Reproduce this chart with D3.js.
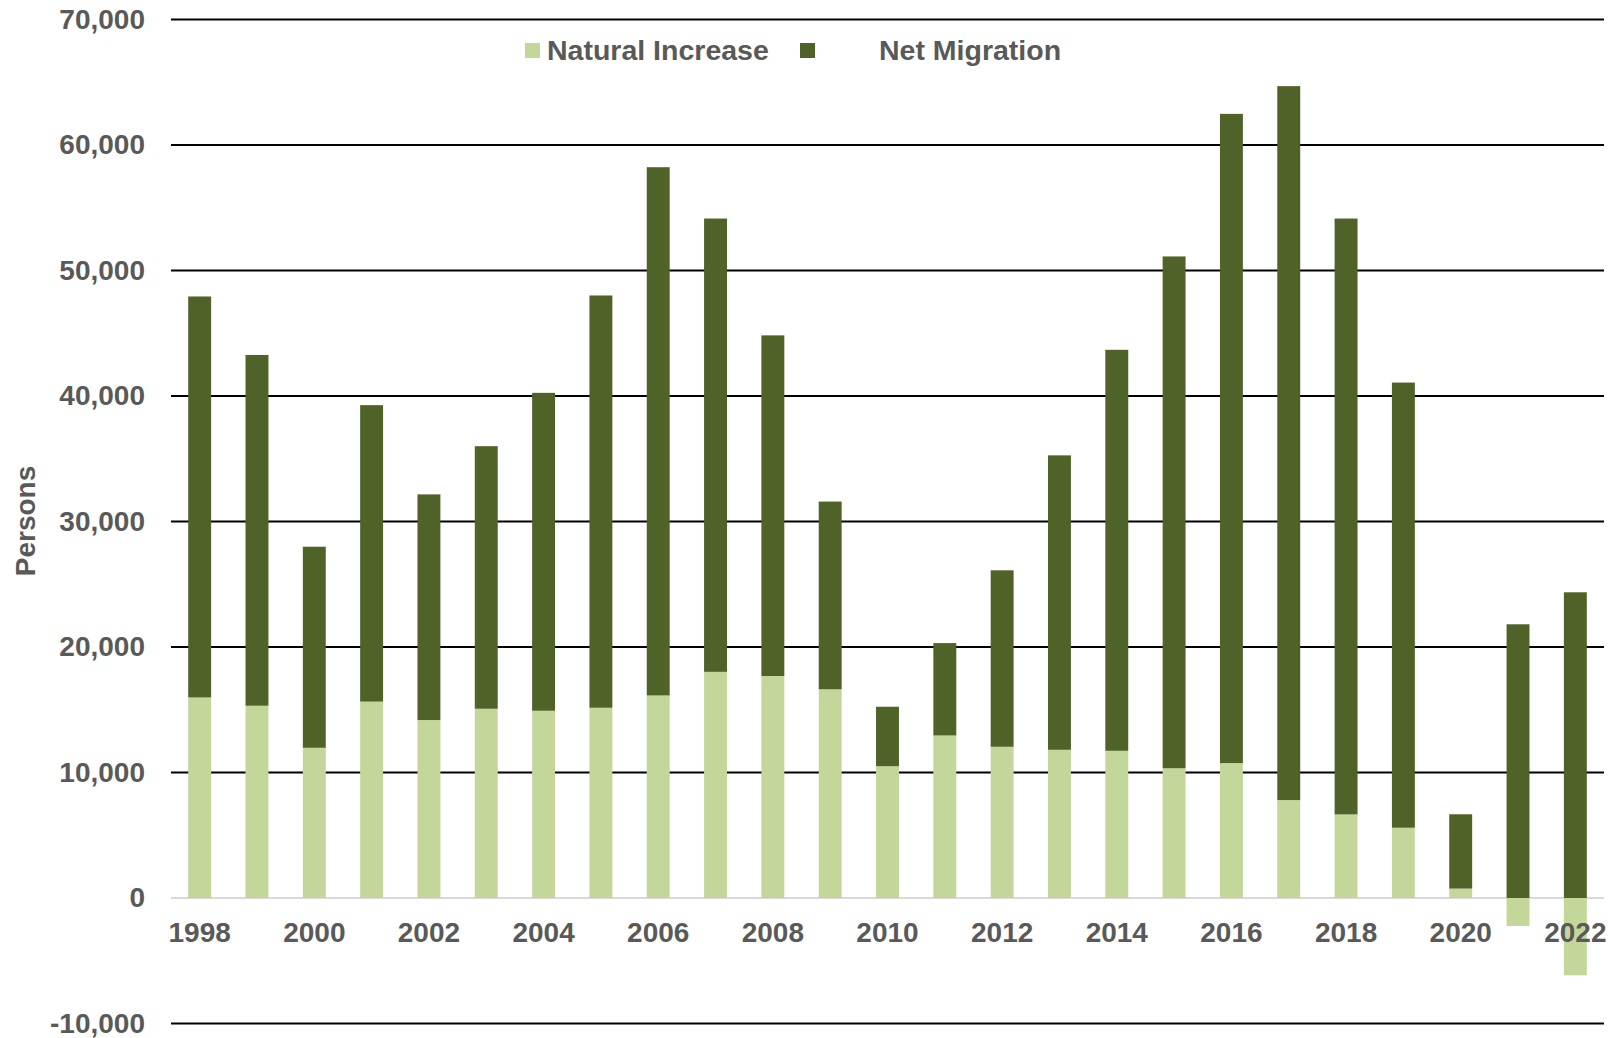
<!DOCTYPE html>
<html>
<head>
<meta charset="utf-8">
<script src="https://cdn.jsdelivr.net/npm/d3@7"></script>
<style>
  html, body { margin: 0; padding: 0; background: #fff; }
  svg { display: block; }
  text { font-family: "Liberation Sans", Arial, sans-serif; font-weight: bold; fill: #595959; }
</style>
</head>
<body>
<svg id="chart" width="1608" height="1038"></svg>
<script>
// ---- Data ----
const years = ["1998","1999","2000","2001","2002","2003","2004","2005","2006","2007","2008","2009","2010","2011","2012","2013","2014","2015","2016","2017","2018","2019","2020","2021","2022"];
const naturalIncrease = [15980,15320,11970,15650,14180,15080,14920,15160,16140,18020,17690,16630,10500,12950,12050,11810,11730,10340,10750,7800,6660,5600,750,-2230,-6160];
const netMigration = [31950,27950,16020,23620,17980,20920,25330,32850,42090,36120,27140,14960,4740,7360,14060,23460,31950,40780,51730,56890,47480,35470,5920,21810,24360];
const yTicks = [-10000,0,10000,20000,30000,40000,50000,60000,70000];
const xTickLabels = ["1998","2000","2002","2004","2006","2008","2010","2012","2014","2016","2018","2020","2022"];
const seriesNames = ["Natural Increase","Net Migration"];
const seriesColors = ["#c4d79b","#4f6228"];

(function () {
// ---- Layout ----
const svg = d3.select("#chart");
const mLeft = 171, mRight = 1604, mTop = 19.5, mBottom = 1023.5;

const x = d3.scaleBand().domain(years).range([mLeft, mRight]).paddingInner(0.6).paddingOuter(0.3);
const y = d3.scaleLinear().domain([-10000, 70000]).range([mBottom, mTop]);

const rows = years.map((yr, i) => ({year: yr, "Natural Increase": naturalIncrease[i], "Net Migration": netMigration[i]}));
const stack = d3.stack().keys(seriesNames).offset(d3.stackOffsetDiverging);
const series = stack(rows);

// gridlines
svg.append("g").selectAll("line").data(yTicks).join("line")
  .attr("x1", mLeft).attr("x2", mRight)
  .attr("y1", d => y(d)).attr("y2", d => y(d))
  .attr("stroke", d => d === 0 ? "#d9d9d9" : "#000")
  .attr("stroke-width", 2);

// bars
svg.append("g").selectAll("g").data(series).join("g")
  .attr("fill", (d, i) => seriesColors[i])
  .selectAll("rect").data(d => d).join("rect")
  .attr("x", d => x(d.data.year))
  .attr("width", x.bandwidth())
  .attr("y", d => y(Math.max(d[0], d[1])))
  .attr("height", d => Math.abs(y(d[0]) - y(d[1])));

// y axis
const fmt = d3.format(",");
const yAxis = svg.append("g").attr("transform", `translate(${mLeft},0)`)
  .call(d3.axisLeft(y).tickValues(yTicks).tickSize(0).tickPadding(26)
    .tickFormat(d => fmt(d).replace("\u2212", "-")));
yAxis.select(".domain").remove();
yAxis.selectAll("text").style("font-size", "28px").attr("fill", "#595959")
  .style("font-family", "'Liberation Sans', Arial, sans-serif").style("font-weight", "bold");

// x axis
const xAxis = svg.append("g").attr("transform", `translate(0,${y(0)})`)
  .call(d3.axisBottom(x).tickValues(xTickLabels).tickSize(0).tickPadding(24));
xAxis.select(".domain").remove();
xAxis.selectAll("text").style("font-size", "28px").attr("fill", "#595959")
  .style("font-family", "'Liberation Sans', Arial, sans-serif").style("font-weight", "bold");

// y axis title
svg.append("text")
  .attr("transform", "translate(34.5,521) rotate(-90)")
  .attr("text-anchor", "middle")
  .style("font-size", "28px")
  .text("Persons");

// legend
const legendItems = [
  {sx: 525, tx: 547},
  {sx: 800, tx: 879}
];
const lg = svg.append("g");
legendItems.forEach((p, i) => {
  lg.append("rect").attr("x", p.sx).attr("y", 43).attr("width", 15).attr("height", 15).attr("fill", seriesColors[i]);
  lg.append("text").attr("x", p.tx).attr("y", 59.5).style("font-size", "28.5px").text(seriesNames[i]);
});
})();
</script>
</body>
</html>
